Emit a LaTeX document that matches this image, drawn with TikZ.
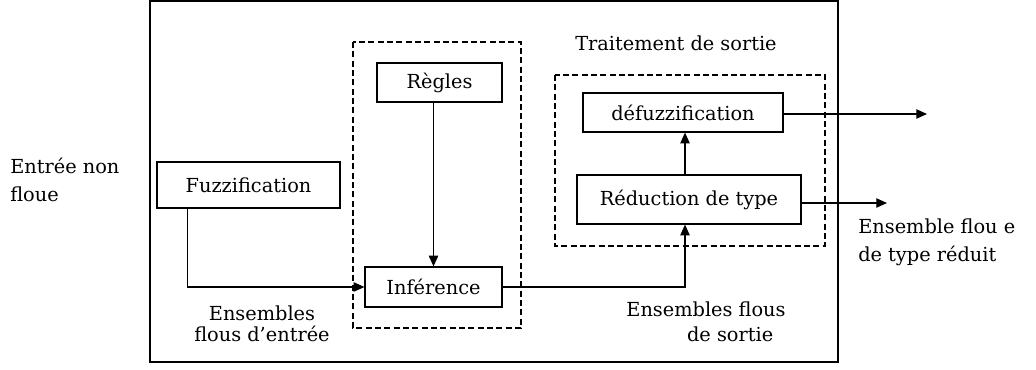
\documentclass[tikz,border=0pt]{standalone}
\usepackage{fontspec}
\setmainfont{DejaVu Serif}
\usetikzlibrary{arrows.meta,calc}
\begin{document}
\begin{tikzpicture}[x=0.75pt,y=-0.75pt,
  txt/.style={font=\fontsize{14.5}{20}\selectfont, inner sep=0pt},
  block/.style={draw, line width=0.9pt, rectangle, inner sep=0pt,
    font=\fontsize{14.5}{20}\selectfont},
  group/.style={draw, line width=0.9pt, dash pattern=on 4.5pt off 2.5pt},
  link/.style={line width=0.9pt},
  arr/.style={link, -{Triangle[length=8pt,width=7pt]}}]
\useasboundingbox (0,0) rectangle (1036,370);
% system frame
\draw[line width=1.5pt] (150,1) rectangle (838,362);
% dashed groups
\draw[group] (353,42) rectangle (521,328);
\draw[group] (555,75) rectangle (825,246);
% processing blocks
\node[block, minimum width=183*0.75pt, minimum height=46*0.75pt] (fuz) at (248.5,185) {Fuzzification};
\node[block, minimum width=125*0.75pt, minimum height=39*0.75pt] (reg) at (439.5,82.5) {Règles};
\node[block, minimum width=137*0.75pt, minimum height=40*0.75pt] (inf) at (433.5,287) {Inférence};
\node[block, minimum width=200*0.75pt, minimum height=39*0.75pt] (def) at (683,112.5) {défuzzification};
\node[block, minimum width=224*0.75pt, minimum height=49*0.75pt] (red) at (689,199.5) {Réduction de type};
% free ends of the outputs
\coordinate (outdef) at (927,114);
\coordinate (outred) at (887,203);
% connectors
\draw[arr] ($(fuz.south west)+(31,0)$) |- (inf.west);
\draw[arr] (reg.south -| inf.north) -- (inf.north);
\draw[arr] (inf.east) -| ($(red.south)+(-4,0)$);
\draw[arr] ($(red.north)+(-4,0)$) -- ($(def.south)+(2,0)$);
\draw[arr] (def.east |- outdef) -- (outdef);
\draw[arr] (red.east |- outred) -- (outred);
% labels (multi-line labels are anchored on their last baseline)
\node[txt, anchor=base] (lts) at (676,51) {Traitement de sortie};
\node[txt, anchor=base west, align=left] (lin) at (10,202) {Entrée non\\[1pt]floue};
\node[txt, anchor=base, align=center] (lfe) at (262,342) {Ensembles\\[-4pt]flous d’entrée};
\node[txt, anchor=base, align=center] (lfs) at (706,342) {Ensembles flous\\[-1pt]\hspace*{2.5em}de sortie};
\node[txt, anchor=base west, align=left] (lout) at (858,262) {Ensemble flou e\\[1pt]de type réduit};
\end{tikzpicture}
\end{document}
